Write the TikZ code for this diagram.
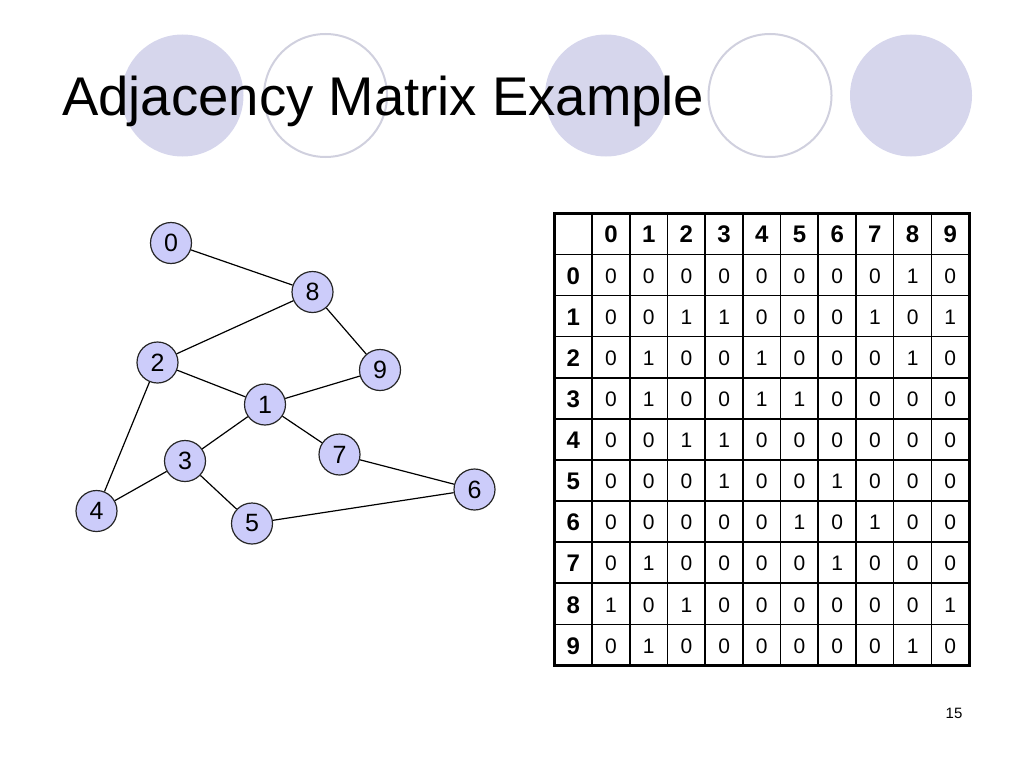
\documentclass[tikz,border=0pt]{standalone}
\usepackage{fontspec}
\setmainfont{Liberation Sans}
\definecolor{ringfill}{RGB}{214,214,236}
\definecolor{ringline}{RGB}{208,208,222}
\definecolor{vertexfill}{RGB}{204,204,250}

\begin{document}
\begin{tikzpicture}[x=1pt, y=-1pt]
    \tikzset{
        vertex/.style={
            circle, draw=black!85, fill=vertexfill, line width=1.2pt,
            minimum size=41pt, inner sep=0pt,
            font=\fontsize{25}{25}\selectfont,
        },
        edge/.style={line width=1.2pt},
        head/.style={font=\fontsize{24}{24}\selectfont\bfseries},
        cell/.style={font=\fontsize{21}{21}\selectfont},
        ruleline/.style={line width=1.6pt},
    }
    \useasboundingbox (0,0) rectangle (1024,768);

    % Background rings
    \fill[ringfill] (182.5,95.5) circle (61);
    \draw[ringline, line width=2pt] (325.5,95.5) circle (61.5);
    \fill[ringfill] (606,95.5) circle (61);
    \draw[ringline, line width=2pt] (770,95.5) circle (61.5);
    \fill[ringfill] (911,95.5) circle (61);

    % Title
    \node[anchor=base west, inner sep=0pt, font=\fontsize{54.5}{60}\selectfont] (title) at (62,115) {Adjacency Matrix Example};

    % Vertices
    \node[vertex] (v0) at (171,243) {0};
    \node[vertex] (v8) at (312.5,292) {8};
    \node[vertex] (v2) at (157.5,362.5) {2};
    \node[vertex] (v9) at (380,370) {9};
    \node[vertex] (v1) at (265,404.5) {1};
    \node[vertex] (v3) at (185,461) {3};
    \node[vertex] (v7) at (339.5,454.5) {7};
    \node[vertex] (v6) at (474.5,489.5) {6};
    \node[vertex] (v4) at (96.5,511) {4};
    \node[vertex] (v5) at (252,523.5) {5};

    % Edges
    \draw[edge] (v0) -- (v8);
    \draw[edge] (v8) -- (v2);
    \draw[edge] (v8) -- (v9);
    \draw[edge] (v2) -- (v1);
    \draw[edge] (v2) -- (v4);
    \draw[edge] (v9) -- (v1);
    \draw[edge] (v1) -- (v3);
    \draw[edge] (v1) -- (v7);
    \draw[edge] (v3) -- (v4);
    \draw[edge] (v3) -- (v5);
    \draw[edge] (v7) -- (v6);
    \draw[edge] (v5) -- (v6);

    % Matrix grid
    \foreach \i in {1,...,10} {
        \draw[ruleline] ({554.3+37.7*\i},213.3) -- ({554.3+37.7*\i},665.4);
        \draw[ruleline] (554.3,{213.3+41.1*\i}) -- (969,{213.3+41.1*\i});
    }
    \draw[line width=3pt] (554.3,213.3) rectangle (969,665.4);

    % Matrix labels
    \foreach \c in {0,...,9} {
        \node[head] (col\c) at ({611+37.7*\c},234.5) {\c};
        \node[head] (row\c) at (573.2,{276+41.1*\c}) {\c};
    }

    % Matrix entries
    \foreach \v [count=\c from 0] in {0,0,0,0,0,0,0,0,1,0}
        \node[cell] (e0-\c) at ({611+37.7*\c},{276+41.1*0}) {\v};
    \foreach \v [count=\c from 0] in {0,0,1,1,0,0,0,1,0,1}
        \node[cell] (e1-\c) at ({611+37.7*\c},{276+41.1*1}) {\v};
    \foreach \v [count=\c from 0] in {0,1,0,0,1,0,0,0,1,0}
        \node[cell] (e2-\c) at ({611+37.7*\c},{276+41.1*2}) {\v};
    \foreach \v [count=\c from 0] in {0,1,0,0,1,1,0,0,0,0}
        \node[cell] (e3-\c) at ({611+37.7*\c},{276+41.1*3}) {\v};
    \foreach \v [count=\c from 0] in {0,0,1,1,0,0,0,0,0,0}
        \node[cell] (e4-\c) at ({611+37.7*\c},{276+41.1*4}) {\v};
    \foreach \v [count=\c from 0] in {0,0,0,1,0,0,1,0,0,0}
        \node[cell] (e5-\c) at ({611+37.7*\c},{276+41.1*5}) {\v};
    \foreach \v [count=\c from 0] in {0,0,0,0,0,1,0,1,0,0}
        \node[cell] (e6-\c) at ({611+37.7*\c},{276+41.1*6}) {\v};
    \foreach \v [count=\c from 0] in {0,1,0,0,0,0,1,0,0,0}
        \node[cell] (e7-\c) at ({611+37.7*\c},{276+41.1*7}) {\v};
    \foreach \v [count=\c from 0] in {1,0,1,0,0,0,0,0,0,1}
        \node[cell] (e8-\c) at ({611+37.7*\c},{276+41.1*8}) {\v};
    \foreach \v [count=\c from 0] in {0,1,0,0,0,0,0,0,1,0}
        \node[cell] (e9-\c) at ({611+37.7*\c},{276+41.1*9}) {\v};

    % Slide number
    \node[font=\fontsize{15}{15}\selectfont] (pageno) at (954,713) {15};
\end{tikzpicture}
\end{document}
